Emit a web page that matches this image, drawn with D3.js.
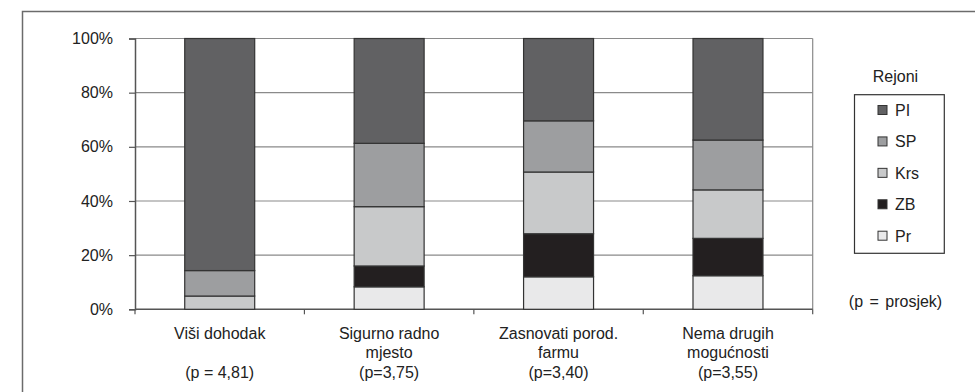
<!DOCTYPE html>
<html>
<head>
<meta charset="utf-8">
<script src="https://cdn.jsdelivr.net/npm/d3@7"></script>
<style>
  html, body { margin: 0; padding: 0; background: #fff; }
  svg { display: block; font-family: "Liberation Sans", Arial, sans-serif; }
</style>
</head>
<body>
<svg id="chart" width="975" height="392"></svg>
<script>
// ---- data ----
const categories = ["Viši dohodak", "Sigurno radno mjesto", "Zasnovati porod. farmu", "Nema drugih mogućnosti"];
const categoryLabelLines = [
  ["Viši dohodak", "", "(p = 4,81)"],
  ["Sigurno radno", "mjesto", "(p=3,75)"],
  ["Zasnovati porod.", "farmu", "(p=3,40)"],
  ["Nema drugih", "mogućnosti", "(p=3,55)"]
];
const seriesNames = ["Pr", "ZB", "Krs", "SP", "PI"]; // bottom to top
const Pr  = [0,    8.3, 12.0, 12.4];
const ZB  = [0,    7.7, 15.9, 13.8];
const Krs = [4.9, 21.9, 22.8, 17.9];
const SP  = [9.4, 23.4, 18.9, 18.4];
const PI  = [85.7, 38.7, 30.4, 37.5];
const seriesColors = { PI: "#616163", SP: "#9d9ea0", Krs: "#c8c9ca", ZB: "#231f20", Pr: "#e9e9ea" };
const legendOrder = ["PI", "SP", "Krs", "ZB", "Pr"];
const yTicks = [0, 0.2, 0.4, 0.6, 0.8, 1.0];
const legendTitle = "Rejoni";
const noteText = "(p = prosjek)";

// ---- build table ----
const seriesValues = { Pr, ZB, Krs, SP, PI };
const table = categories.map((c, i) => {
  const row = { category: c };
  seriesNames.forEach(s => row[s] = seriesValues[s][i]);
  return row;
});
const stacked = d3.stack().keys(seriesNames).offset(d3.stackOffsetExpand)(table);

// ---- layout ----
const FS = 16;
const svg = d3.select("#chart");
const plot = { left: 135, right: 812.7, top: 38.5, bottom: 309.3 };

const x = d3.scaleBand().domain(categories).range([plot.left, plot.right]).padding(0);
const barW = x.bandwidth() * 0.413;
const y = d3.scaleLinear().domain([0, 1]).range([plot.bottom, plot.top]);

// outer frame
svg.append("rect")
  .attr("x", 22.5).attr("y", 11.5)
  .attr("width", 1000).attr("height", 500)
  .attr("fill", "none").attr("stroke", "#6b6b6b").attr("stroke-width", 1.5);

// gridlines
svg.append("g").selectAll("line").data(yTicks.filter(t => t > 0)).join("line")
  .attr("x1", plot.left).attr("x2", plot.right)
  .attr("y1", d => y(d)).attr("y2", d => y(d))
  .attr("stroke", "#8a8a8a").attr("stroke-width", 1.2);

// right border of plot area
svg.append("line")
  .attr("x1", plot.right).attr("x2", plot.right)
  .attr("y1", plot.top).attr("y2", plot.bottom)
  .attr("stroke", "#8a8a8a").attr("stroke-width", 1.2);

// y axis
const yAxis = d3.axisLeft(y).tickValues(yTicks).tickFormat(d3.format(".0%")).tickSize(6).tickPadding(16);
const gy = svg.append("g").attr("transform", `translate(${plot.left},0)`).call(yAxis);
gy.select(".domain").attr("stroke", "#555").attr("stroke-width", 1.5);
gy.selectAll(".tick line").attr("stroke", "#555").attr("stroke-width", 1.2);
gy.selectAll(".tick text").attr("font-size", FS).attr("fill", "#222")
  .attr("font-family", "Liberation Sans, Arial, sans-serif");

// x axis line + ticks at category boundaries
svg.append("line")
  .attr("x1", plot.left).attr("x2", plot.right)
  .attr("y1", plot.bottom).attr("y2", plot.bottom)
  .attr("stroke", "#555").attr("stroke-width", 1.5);
const boundaries = categories.map(c => x(c) + x.bandwidth()).concat([x(categories[0])]);
svg.append("g").selectAll("line").data(boundaries).join("line")
  .attr("x1", d => d).attr("x2", d => d)
  .attr("y1", plot.bottom).attr("y2", plot.bottom + 5)
  .attr("stroke", "#555").attr("stroke-width", 1.2);

// bars
const gBars = svg.append("g");
stacked.forEach(layer => {
  gBars.append("g").selectAll("rect").data(layer).join("rect")
    .attr("x", d => x(d.data.category) + (x.bandwidth() - barW) / 2)
    .attr("width", barW)
    .attr("y", d => y(d[1]))
    .attr("height", d => Math.max(0, y(d[0]) - y(d[1])))
    .attr("fill", seriesColors[layer.key])
    .attr("stroke", d => (d[1] - d[0]) > 0 ? "#333" : "none")
    .attr("stroke-width", 1.2);
});

// category labels
const gLab = svg.append("g").attr("font-size", FS).attr("fill", "#222").attr("text-anchor", "middle");
categoryLabelLines.forEach((lines, i) => {
  const cx = x(categories[i]) + x.bandwidth() / 2;
  lines.forEach((ln, j) => {
    if (!ln) return;
    gLab.append("text").attr("x", cx).attr("y", 338.8 + j * 19.5).text(ln);
  });
});

// legend
const lg = svg.append("g").attr("font-size", FS).attr("fill", "#222");
lg.append("text").attr("x", 895.5).attr("y", 81.8).attr("text-anchor", "middle").text(legendTitle);
lg.append("rect").attr("x", 854.5).attr("y", 94.7).attr("width", 89.8).attr("height", 158.6)
  .attr("fill", "none").attr("stroke", "#333").attr("stroke-width", 1.2);
const legY = d3.scalePoint().domain(legendOrder).range([110, 235.7]);
legendOrder.forEach(k => {
  lg.append("rect").attr("x", 878).attr("y", legY(k) - 4.5).attr("width", 9).attr("height", 9)
    .attr("fill", seriesColors[k]).attr("stroke", "#333").attr("stroke-width", 1);
  lg.append("text").attr("x", 895).attr("y", legY(k) + 5.8).text(k);
});

// note
lg.append("text").attr("x", 895.5).attr("y", 307.3).attr("text-anchor", "middle")
  .attr("word-spacing", 2).text(noteText);
</script>
</body>
</html>
